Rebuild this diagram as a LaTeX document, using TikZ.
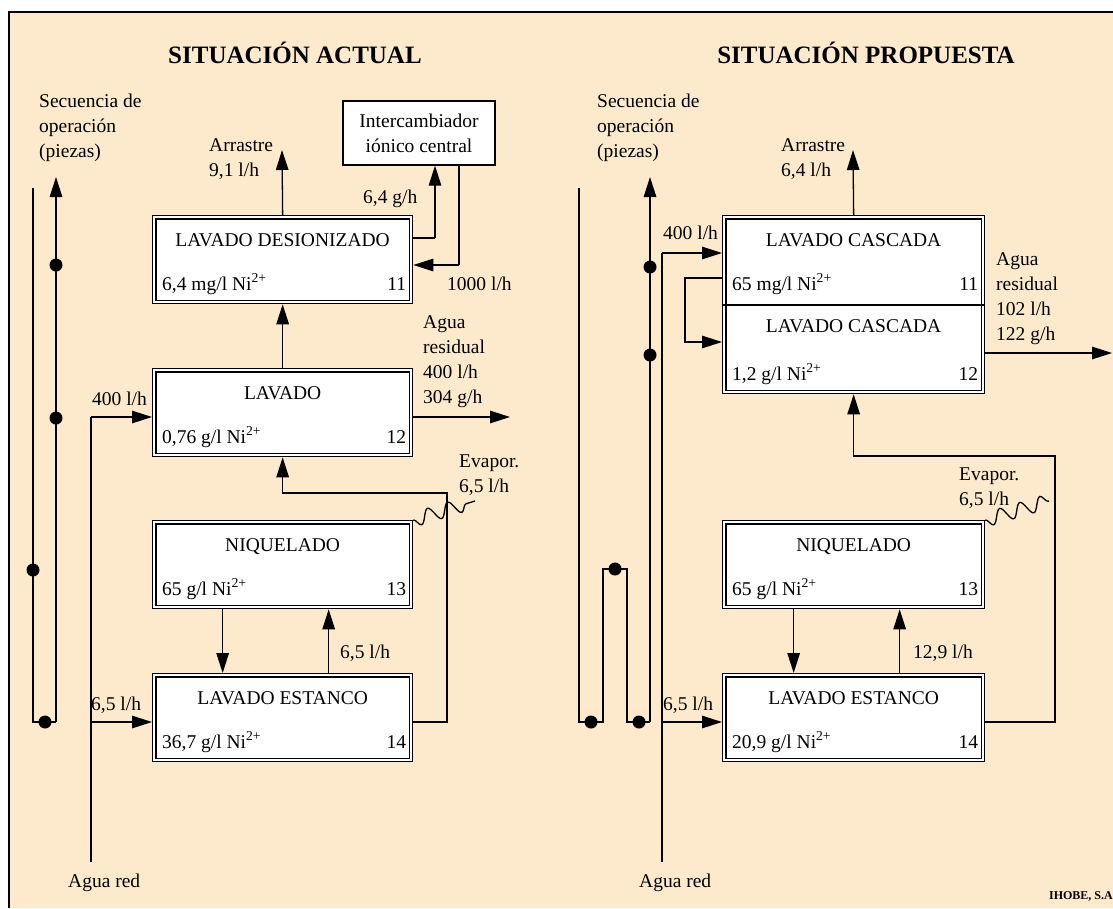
\documentclass[tikz,border=0pt]{standalone}
\usepackage{fontspec}
\setmainfont{Liberation Serif}
\usetikzlibrary{arrows.meta,decorations.pathmorphing}
\definecolor{bgc}{RGB}{253,234,204}
\newcommand{\tanklabels}[4]{%
  \node[anchor=base] (#1-t) at ([yshift=-31pt]#1.north) {#2};
  \node[anchor=base west] (#1-c) at ([xshift=10pt,yshift=-75pt]#1.north west) {#3};
  \node[anchor=base east] (#1-n) at ([xshift=-7pt,yshift=-75pt]#1.north east) {#4};
}
\begin{document}
\begin{tikzpicture}[x=1pt,y=-1pt,
  every node/.style={font=\fontsize{19.5}{25}\selectfont, inner sep=0pt},
  ln/.style={line width=1.3pt},
  arr/.style={ln, -{Triangle[length=20pt,width=12.5pt]}},
  tank/.style={draw, line width=1.3pt, fill=white, minimum width=260pt, minimum height=88pt, anchor=north west},
  ttl/.style={font=\fontsize{25}{30}\selectfont\bfseries},
  lbl/.style={align=left, anchor=north west},
  dot/.style={circle, fill=black, minimum size=13pt, inner sep=0pt},
  wave/.style={ln, decorate, decoration={snake, amplitude=7pt, segment length=21pt, mirror}}
]
\useasboundingbox (0,0) rectangle (1113,908);
\fill[bgc] (9,12) rectangle (1113,908);
\draw[ln] (9,908) -- (9,12) -- (1113,12);

% titles
\node[ttl] (t1) at (295,53) {SITUACIÓN ACTUAL};
\node[ttl] (t2) at (866,53) {SITUACIÓN PROPUESTA};

% ---------- tanks ----------
\node[tank] (d1) at (152,215) {};
\node[tank] (l1) at (152,368) {};
\node[tank] (n1) at (152,520) {};
\node[tank] (e1) at (152,673) {};
\node[tank, minimum width=262pt, minimum height=178pt] (c2) at (722,215) {};
\node[tank, minimum width=262pt] (n2) at (722,520) {};
\node[tank, minimum width=262pt] (e2) at (722,673) {};
\foreach \b in {d1,l1,n1,e1,c2,n2,e2}
  \draw[ln] ([shift={(4pt,-4pt)}]\b.north west) rectangle ([shift={(-4pt,4pt)}]\b.south east);
\draw[ln] ([yshift=-90pt]c2.north west) -- ([yshift=-90pt]c2.north east);

\tanklabels{d1}{LAVADO DESIONIZADO}{6,4 mg/l Ni\textsuperscript{2+}}{11}
\tanklabels{l1}{LAVADO}{0,76 g/l Ni\textsuperscript{2+}}{12}
\tanklabels{n1}{NIQUELADO}{65 g/l Ni\textsuperscript{2+}}{13}
\tanklabels{e1}{LAVADO ESTANCO}{36,7 g/l Ni\textsuperscript{2+}}{14}
\tanklabels{c2}{LAVADO CASCADA}{65 mg/l Ni\textsuperscript{2+}}{11}
\node[anchor=base] (c2-t2) at ([yshift=-117pt]c2.north) {LAVADO CASCADA};
\node[anchor=base west] (c2-c2) at ([xshift=10pt,yshift=-165pt]c2.north west) {1,2 g/l Ni\textsuperscript{2+}};
\node[anchor=base east] (c2-n2) at ([xshift=-7pt,yshift=-165pt]c2.north east) {12};
\tanklabels{n2}{NIQUELADO}{65 g/l Ni\textsuperscript{2+}}{13}
\tanklabels{e2}{LAVADO ESTANCO}{20,9 g/l Ni\textsuperscript{2+}}{14}

% ---------- left: sequence ----------
\node[lbl] (sq1) at (39,94) {Secuencia de\\operación\\(piezas)};
\coordinate (sqA) at (33,188);
\coordinate (sqB) at (33,722);
\coordinate (sqC) at (56,722);
\coordinate (sqD) at (56,177);
\draw[ln] (sqA) -- (sqB) -- (sqC);
\draw[arr] (sqC) -- (sqD);
\node[dot] (dL1) at (33,570) {};
\node[dot] (dL2) at (45,722) {};
\node[dot] (dL3) at (56,418) {};
\node[dot] (dL4) at (56,265) {};

% agua red left
\coordinate (arL) at (91,862);
\coordinate (arL1) at (91,417);
\coordinate (arL2) at (91,722);
\draw[ln] (arL) -- (arL1);
\draw[arr] (arL1) -- (arL1 -| l1.west);
\draw[arr] (arL2) -- (arL2 -| e1.west);
\node[anchor=base west] (q400L) at (92,405) {400 l/h};
\node[anchor=base west] (q65L) at (91,710) {6,5 l/h};
\node[anchor=base west] (arLt) at (68,887) {Agua red};

% arrastre left
\coordinate (arrL) at (282,150);
\draw[arr] (d1.north) -- (arrL);
\node[lbl] (arrLt) at (209,138) {Arrastre\\9,1 l/h};

% intercambiador
\node[draw, ln, fill=white, minimum width=152pt, minimum height=64pt, align=center] (ix) at (419,133) {Intercambiador\\iónico central};
\coordinate (ixa) at (435,238);
\coordinate (ixb) at (459,265);
\draw[ln] (d1.east |- ixa) -- (ixa);
\draw[arr] (ixa) -- (ixa |- ix.south);
\draw[ln] (ix.south -| ixb) -- (ixb);
\draw[arr] (ixb) -- (ixb -| d1.east);
\node[anchor=base west] (q64g) at (363,203) {6,4 g/h};
\node[anchor=base west] (q1000) at (447,290) {1000 l/h};

% lavado -> desionizado
\draw[arr] (l1.north) -- (d1.south);

% agua residual left
\coordinate (wrL) at (510,417);
\draw[arr] (l1.east |- wrL) -- (wrL);
\node[lbl] (wrLt) at (423,315) {Agua\\residual\\400 l/h\\304 g/h};

% return from estanco to lavado
\coordinate (rtL1) at (447,722);
\coordinate (rtL2) at (447,493);
\draw[arr] (e1.east |- rtL1) -- (rtL1) -- (rtL2) -| (l1.south);

% niquelado <-> estanco
\draw[arr] ([xshift=-60pt]n1.south) -- ([xshift=-60pt]e1.north);
\draw[arr] ([xshift=46pt]e1.north) -- ([xshift=46pt]n1.south);
\node[anchor=base west] (q65m) at (340,658) {6,5 l/h};

% evaporation left
\coordinate (evL) at (475,501);
\draw[wave] (n1.north east) -- (evL);
\node[lbl] (evLt) at (459,455) {Evapor.\\6,5 l/h};

% ---------- right: sequence ----------
\node[lbl] (sq2) at (597,94) {Secuencia de\\operación\\(piezas)};
\coordinate (sqRa) at (579,188);
\coordinate (sqRb) at (579,722);
\coordinate (sqRc) at (603,722);
\coordinate (sqRd) at (603,569);
\coordinate (sqRe) at (627,569);
\coordinate (sqRf) at (627,722);
\coordinate (sqRg) at (650,722);
\coordinate (sqRh) at (650,177);
\draw[ln] (sqRa) -- (sqRb) -- (sqRc) -- (sqRd) -- (sqRe) -- (sqRf) -- (sqRg);
\draw[arr] (sqRg) -- (sqRh);
\node[dot] (dR1) at (591,722) {};
\node[dot] (dR2) at (615,569) {};
\node[dot] (dR3) at (639,722) {};
\node[dot] (dR4) at (650,355) {};
\node[dot] (dR5) at (650,267) {};

% agua red right
\coordinate (arR) at (662,862);
\coordinate (arR1) at (662,253);
\coordinate (arR2) at (662,722);
\draw[ln] (arR) -- (arR1);
\draw[arr] (arR1) -- (arR1 -| c2.west);
\draw[arr] (arR2) -- (arR2 -| e2.west);
\node[anchor=base west] (q400R) at (663,239) {400 l/h};
\node[anchor=base west] (q65R) at (663,710) {6,5 l/h};
\node[anchor=base west] (arRt) at (639,887) {Agua red};

% cascade loop
\coordinate (lpA) at (685,278);
\coordinate (lpB) at (685,342);
\draw[arr] (c2.west |- lpA) -- (lpA) -- (lpB) -- (lpB -| c2.west);

% arrastre right
\coordinate (arrR) at (853,150);
\draw[arr] (c2.north) -- (arrR);
\node[lbl] (arrRt) at (781,138) {Arrastre\\6,4 l/h};

% agua residual right
\coordinate (wrR) at (1112,353);
\draw[arr] (c2.east |- wrR) -- (wrR);
\node[lbl] (wrRt) at (996,252) {Agua\\residual\\102 l/h\\122 g/h};

% return right
\coordinate (rtR1) at (1055,722);
\coordinate (rtR2) at (1055,456);
\draw[arr] (e2.east |- rtR1) -- (rtR1) -- (rtR2) -| (c2.south);

% niquelado <-> estanco right
\draw[arr] ([xshift=-60pt]n2.south) -- ([xshift=-60pt]e2.north);
\draw[arr] ([xshift=46pt]e2.north) -- ([xshift=46pt]n2.south);
\node[anchor=base west] (q129) at (913,658) {12,9 l/h};

% evaporation right
\coordinate (evR) at (1049,501);
\draw[wave] (n2.north east) -- (evR);
\node[lbl] (evRt) at (959,468) {Evapor.\\6,5 l/h};

% credit
\node[anchor=base east, font=\fontsize{12}{14}\selectfont\bfseries] (cred) at (1113,899) {IHOBE, S.A};
\end{tikzpicture}
\end{document}
